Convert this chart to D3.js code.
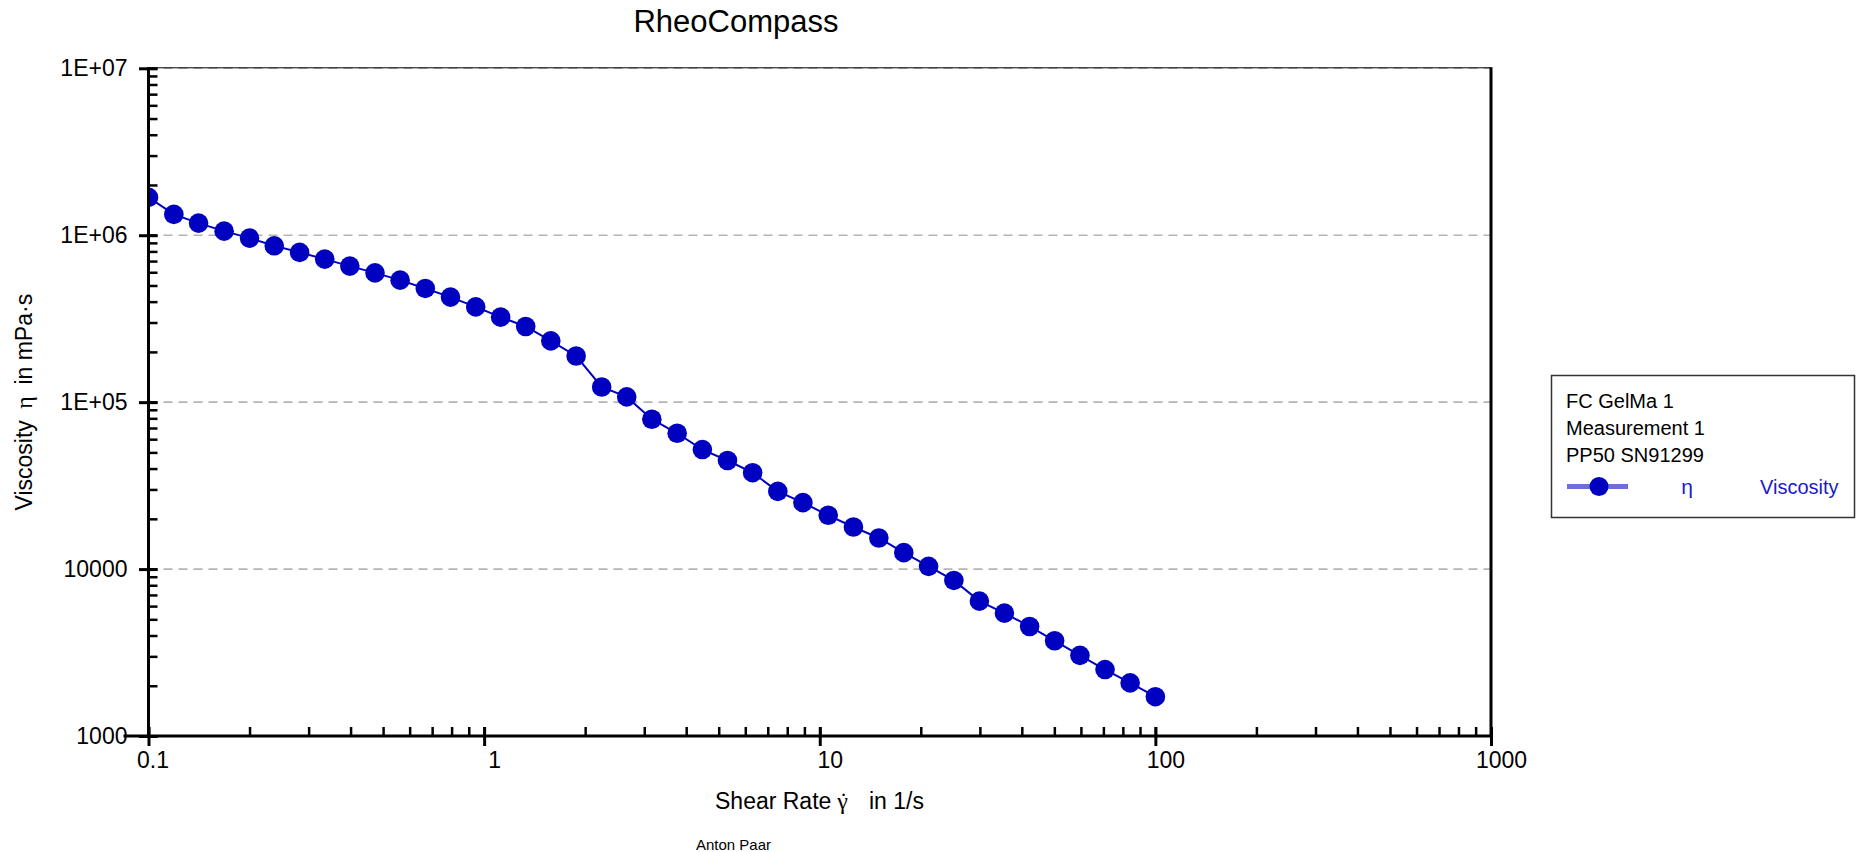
<!DOCTYPE html>
<html>
<head>
<meta charset="utf-8">
<script src="https://cdn.jsdelivr.net/npm/d3@7"></script>
<style>
  html, body { margin: 0; padding: 0; background: #fff; }
  svg { display: block; }
  text { font-family: "Liberation Sans", Arial, sans-serif; }
</style>
</head>
<body>
<svg id="chart" width="1856" height="852"></svg>
<script>
// ---- data ----
const shearRate = [0.1, 0.119, 0.141, 0.168, 0.2, 0.237, 0.282, 0.335, 0.398, 0.473,
  0.562, 0.668, 0.794, 0.944, 1.12, 1.33, 1.58, 1.88, 2.24, 2.66,
  3.16, 3.76, 4.47, 5.31, 6.31, 7.5, 8.91, 10.6, 12.6, 15,
  17.8, 21.1, 25.1, 29.9, 35.5, 42.2, 50.1, 59.6, 70.8, 84.1, 100];
const viscosity = [1685000, 1333000, 1182000, 1058000, 961000, 864000, 789000, 719000, 653000, 595000,
  538000, 480000, 426000, 372000, 323000, 284000, 233000, 189000, 123300, 107500,
  79000, 65100, 52000, 44700, 37800, 29200, 25000, 21000, 17860, 15350,
  12540, 10380, 8550, 6430, 5450, 4530, 3720, 3040, 2500, 2080, 1720];
const xTickValues = [0.1, 1, 10, 100, 1000];
const xTickLabels = ["0.1", "1", "10", "100", "1000"];
const yTickValues = [1000, 10000, 100000, 1000000, 10000000];
const yTickLabels = ["1000", "10000", "1E+05", "1E+06", "1E+07"];
const xDomain = [0.1, 1000];
const yDomain = [1000, 10000000];
const titleText = "RheoCompass";
const legendLines = ["FC GelMa 1", "Measurement 1", "PP50 SN91299"];
const seriesSymbol = "η";
const seriesName = "Viscosity";
const footerText = "Anton Paar";

// ---- layout ----
const L = 148.5, R = 1491, T = 68.3, B = 736;
const blue = "#0000c0";
const svg = d3.select("#chart");

const x = d3.scaleLog().domain(xDomain).range([L, R]);
const y = d3.scaleLog().domain(yDomain).range([B, T]);

const defs = svg.append("defs");
defs.append("clipPath").attr("id", "plotclip")
  .append("rect").attr("x", L).attr("y", T - 12).attr("width", R - L).attr("height", B - T + 12);
const blur = defs.append("filter").attr("id", "soft").attr("filterUnits", "userSpaceOnUse")
  .attr("x", 1540).attr("y", 460).attr("width", 120).attr("height", 60);
blur.append("feGaussianBlur").attr("stdDeviation", 0.7);

// gridlines
svg.append("g").selectAll("line")
  .data(yTickValues.filter(v => v > yDomain[0]))
  .join("line")
  .attr("x1", L).attr("x2", R)
  .attr("y1", d => y(d)).attr("y2", d => y(d))
  .attr("stroke", "#b4b4b4").attr("stroke-width", 1.6)
  .attr("stroke-dasharray", "9,6");

// top border (thin) & right border (thick)
svg.append("line").attr("x1", L).attr("x2", R).attr("y1", T - 0.5).attr("y2", T - 0.5)
  .attr("stroke", "#000").attr("stroke-width", 1);
svg.append("line").attr("x1", R).attr("x2", R).attr("y1", T - 1).attr("y2", B)
  .attr("stroke", "#000").attr("stroke-width", 3);

// data
const plot = svg.append("g").attr("clip-path", "url(#plotclip)");
const pts = shearRate.map((s, i) => [s, viscosity[i]]);
plot.append("path")
  .datum(pts)
  .attr("fill", "none").attr("stroke", blue).attr("stroke-width", 2)
  .attr("d", d3.line().x(d => x(d[0])).y(d => y(d[1])));
plot.selectAll("circle").data(pts).join("circle")
  .attr("cx", d => x(d[0])).attr("cy", d => y(d[1])).attr("r", 9.8)
  .attr("fill", blue);

// axes
function styleAxis(g, w) {
  g.select(".domain").remove();
  g.selectAll(".tick line").attr("stroke", "#000").attr("stroke-width", w);
}
const xAll = x.ticks();
svg.append("g").attr("transform", `translate(0,${B})`)
  .call(d3.axisTop(x).tickValues(xAll).tickSize(9).tickFormat(""))
  .call(g => styleAxis(g, 2.5));
svg.append("g").attr("transform", `translate(0,${B})`)
  .call(d3.axisBottom(x).tickValues(xTickValues).tickSize(10).tickPadding(5.5)
    .tickFormat((d, i) => xTickLabels[i]))
  .call(g => styleAxis(g, 3))
  .call(g => g.selectAll(".tick line").attr("y1", -9))
  .call(g => g.selectAll(".tick text").attr("dx", (d, i) => i === 0 ? 4 : 10)
    .attr("font-size", 23).attr("fill", "#000")
    .attr("font-family", "'Liberation Sans', Arial, sans-serif"));
const yAll = y.ticks();
svg.append("g").attr("transform", `translate(${L},0)`)
  .call(d3.axisRight(y).tickValues(yAll).tickSize(9).tickFormat(""))
  .call(g => styleAxis(g, 2.5));
svg.append("g").attr("transform", `translate(${L},0)`)
  .call(d3.axisLeft(y).tickValues(yTickValues).tickSize(9.5).tickPadding(11.5)
    .tickFormat((d, i) => yTickLabels[i]))
  .call(g => styleAxis(g, 3))
  .call(g => g.selectAll(".tick line").attr("x1", 9))
  .call(g => g.selectAll(".tick text")
    .attr("font-size", 23).attr("fill", "#000")
    .attr("font-family", "'Liberation Sans', Arial, sans-serif"));

// axis lines
svg.append("line").attr("x1", L).attr("x2", L).attr("y1", T - 1).attr("y2", B + 1.5)
  .attr("stroke", "#000").attr("stroke-width", 3);
svg.append("line").attr("x1", L - 25).attr("x2", R + 1.5).attr("y1", B).attr("y2", B)
  .attr("stroke", "#000").attr("stroke-width", 3);

// title
svg.append("text").attr("x", 736).attr("y", 31.5).attr("text-anchor", "middle")
  .attr("font-size", 31).attr("fill", "#000").text(titleText);

// x axis label
const serif = "'Liberation Serif', 'DejaVu Serif', serif";
const xl = svg.append("text").attr("y", 809).attr("font-size", 23).attr("fill", "#000");
xl.append("tspan").attr("x", 715).text("Shear Rate");
xl.append("tspan").attr("x", 842.5).attr("text-anchor", "middle")
  .attr("font-family", serif).attr("font-size", 24).text("γ");
xl.append("tspan").attr("x", 843.5).attr("y", 809).attr("text-anchor", "middle")
  .attr("font-family", serif).attr("font-size", 24).text("\u02D9");
xl.append("tspan").attr("x", 869).attr("y", 809).text("in 1/s");

// y axis label
const yl = svg.append("text")
  .attr("transform", `translate(32,${(T + B) / 2}) rotate(-90)`)
  .attr("text-anchor", "middle").attr("font-size", 23).attr("fill", "#000");
yl.append("tspan").text("Viscosity\u2002");
yl.append("tspan").attr("font-family", serif).attr("font-size", 24).text("η");
yl.append("tspan").text("\u2002in mPa·s");

// footer
svg.append("text").attr("x", 696).attr("y", 850).attr("font-size", 15).attr("fill", "#000").text(footerText);

// legend
const lg = svg.append("g");
lg.append("rect").attr("x", 1551.5).attr("y", 375.5).attr("width", 303).attr("height", 142)
  .attr("fill", "#fff").attr("stroke", "#333").attr("stroke-width", 1.5);
lg.selectAll("text.ll").data(legendLines).join("text").attr("class", "ll")
  .attr("x", 1566).attr("y", (d, i) => 407.5 + i * 27)
  .attr("font-size", 20).attr("fill", "#000").text(d => d);
const sym = lg.append("g").attr("filter", "url(#soft)");
sym.append("line").attr("x1", 1567).attr("x2", 1628).attr("y1", 486.5).attr("y2", 486.5)
  .attr("stroke", "#6e6ed8").attr("stroke-width", 5);
sym.append("circle").attr("cx", 1599).attr("cy", 486.5).attr("r", 9.5).attr("fill", blue);
lg.append("text").attr("x", 1687).attr("y", 494).attr("text-anchor", "middle")
  .attr("font-family", serif)
  .attr("font-size", 21).attr("fill", "#1a1acc").text(seriesSymbol);
lg.append("text").attr("x", 1838.5).attr("y", 493.5).attr("text-anchor", "end")
  .attr("font-size", 20).attr("fill", "#1a1acc").text(seriesName);
</script>
</body>
</html>
